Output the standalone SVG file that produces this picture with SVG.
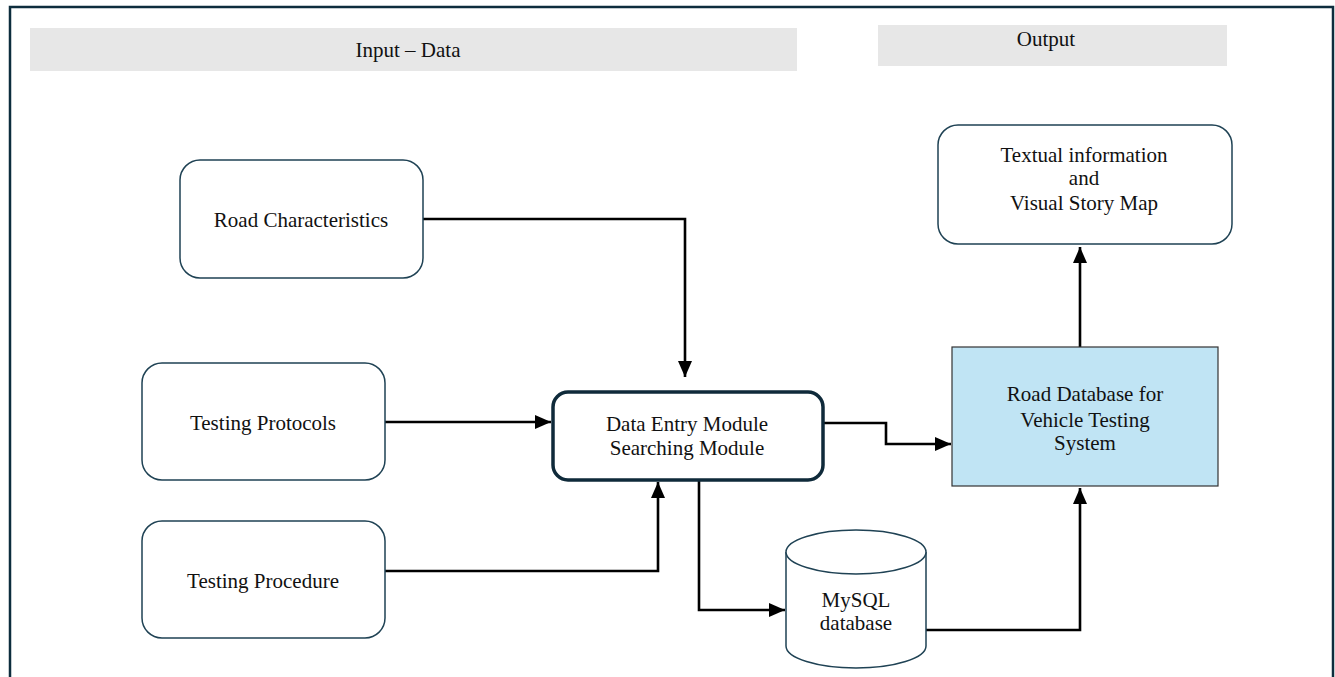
<svg xmlns="http://www.w3.org/2000/svg" width="1335" height="677" viewBox="0 0 1335 677">
<defs>
<style>
text{font-family:"Liberation Serif","Times New Roman",serif;font-size:21px;fill:#111;text-anchor:middle}
.box{fill:#fff;stroke:#1f4254;stroke-width:1.5}
.hdr{fill:#e7e7e7}
.conn{fill:none;stroke:#000;stroke-width:2.6}
</style>
<marker id="arr" markerUnits="userSpaceOnUse" markerWidth="16" markerHeight="14" viewBox="0 0 16 14" refX="16" refY="7" orient="auto">
<path d="M0,0 L16,7 L0,14 Z" fill="#000"/>
</marker>
</defs>
<rect width="1335" height="677" fill="#fff"/>
<rect x="10" y="7" width="1323" height="700" fill="none" stroke="#0d2d3d" stroke-width="2.5"/>
<g id="hdr-input"><rect class="hdr" x="30" y="28" width="767" height="43"/><text x="408" y="57">Input – Data</text></g>
<g id="hdr-output"><rect class="hdr" x="878" y="25" width="349" height="41"/><text x="1046" y="46">Output</text></g>
<g id="connectors">
<path class="conn" d="M423,219 H685 V377" marker-end="url(#arr)"/>
<path class="conn" d="M385,422 H551" marker-end="url(#arr)"/>
<path class="conn" d="M385,571 H658 V482" marker-end="url(#arr)"/>
<path class="conn" d="M823,423 H886 V444 H951" marker-end="url(#arr)"/>
<path class="conn" d="M699,481 V610 H785" marker-end="url(#arr)"/>
<path class="conn" d="M926,630 H1080 V488" marker-end="url(#arr)"/>
<path class="conn" d="M1080,347 V247" marker-end="url(#arr)"/>
</g>
<g id="road-char"><rect class="box" x="180" y="160" width="243" height="118" rx="20"/><text x="301" y="227">Road Characteristics</text></g>
<g id="testing-protocols"><rect class="box" x="142" y="363" width="243" height="117" rx="20"/><text x="263" y="430">Testing Protocols</text></g>
<g id="testing-procedure"><rect class="box" x="142" y="521" width="243" height="117" rx="20"/><text x="263" y="588">Testing Procedure</text></g>
<g id="data-entry"><rect x="553" y="392" width="270" height="88" rx="15" fill="#fff" stroke="#0f2a3a" stroke-width="3.5"/><text x="687" y="431">Data Entry Module</text><text x="687" y="455">Searching Module</text></g>
<g id="mysql">
<path d="M786,552 V646 A70,22 0 0 0 926,646 V552" fill="#fff" stroke="#1f4254" stroke-width="1.5"/>
<ellipse cx="856" cy="552" rx="70" ry="22" fill="#fff" stroke="#1f4254" stroke-width="1.5"/>
<text x="856" y="607">MySQL</text><text x="856" y="630">database</text>
</g>
<g id="road-db"><rect x="952" y="347" width="266" height="139" fill="#c0e4f4" stroke="#333" stroke-width="1.2"/><text x="1085" y="401">Road Database for</text><text x="1085" y="427">Vehicle Testing</text><text x="1085" y="450">System</text></g>
<g id="textual"><rect class="box" x="938" y="125" width="294" height="119" rx="20"/><text x="1084" y="162">Textual information</text><text x="1084" y="185">and</text><text x="1084" y="210">Visual Story Map</text></g>
</svg>
